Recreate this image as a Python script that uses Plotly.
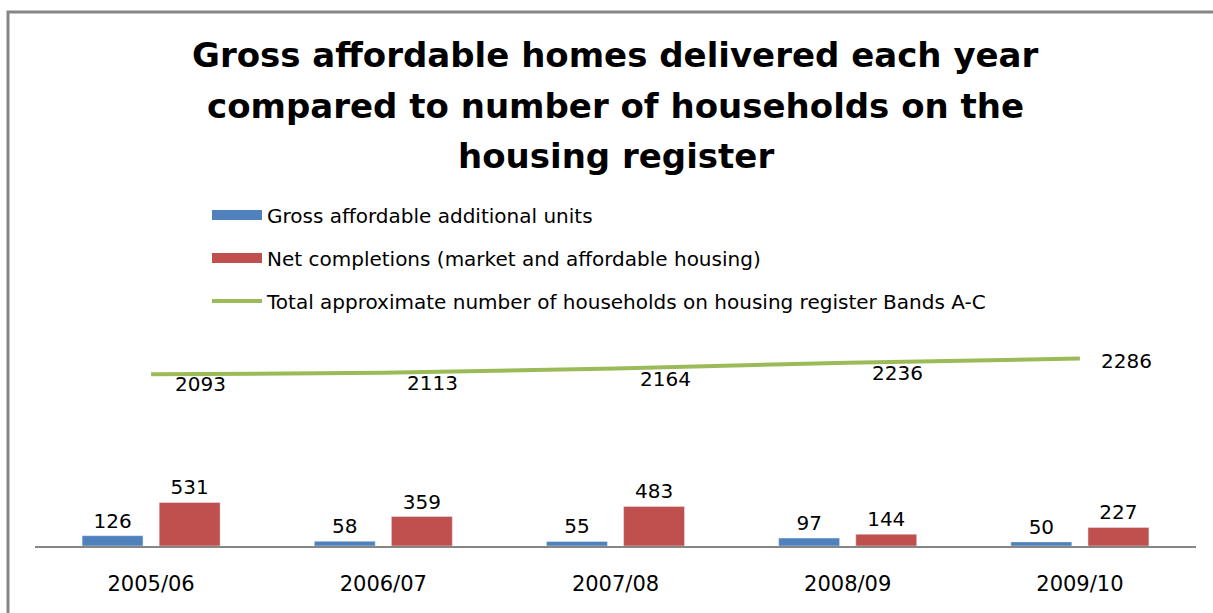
import plotly.graph_objects as go

years = ["2005/06", "2006/07", "2007/08", "2008/09", "2009/10"]
gross_affordable = [126, 58, 55, 97, 50]
net_completions = [531, 359, 483, 144, 227]
register_total = [2093, 2113, 2164, 2236, 2286]
register_label_pos = ["below", "below", "below", "below", "right"]

names = [
    "Gross affordable additional units",
    "Net completions (market and affordable housing)",
    "Total approximate number of households on housing register Bands A-C",
]
title_lines = [
    "Gross affordable homes delivered each year",
    "compared to number of households on the",
    "housing register",
]
colors = ["#4F81BD", "#C0504D", "#9BBB59"]
FONT = "DejaVu Sans"

PW, PH = 1161, 246
def px(xp):
    return (xp - 35) / PW
def py(yp):
    return (546 - yp) / PH

fig = go.Figure()
fig.add_trace(go.Bar(
    x=years, y=gross_affordable, name=names[0], marker_color=colors[0],
    text=gross_affordable, textposition="outside", cliponaxis=False,
    textfont=dict(family=FONT, size=20, color="#000000"), showlegend=False,
))
fig.add_trace(go.Bar(
    x=years, y=net_completions, name=names[1], marker_color=colors[1],
    text=net_completions, textposition="outside", cliponaxis=False,
    textfont=dict(family=FONT, size=20, color="#000000"), showlegend=False,
))
fig.add_trace(go.Scatter(
    x=years, y=register_total, name=names[2], mode="lines",
    line=dict(color=colors[2], width=4), legend="legend3",
))
# legend swatches for the bar series (wide rectangles, as in the original)
fig.add_trace(go.Scatter(x=[None], y=[None], mode="lines", name=names[0],
                         line=dict(color=colors[0], width=12), legend="legend",
                         hoverinfo="skip"))
fig.add_trace(go.Scatter(x=[None], y=[None], mode="lines", name=names[1],
                         line=dict(color=colors[1], width=12), legend="legend2",
                         hoverinfo="skip"))

for yr, v, pos in zip(years, register_total, register_label_pos):
    if pos == "right":
        fig.add_annotation(x=yr, y=v, text=str(v), showarrow=False,
                           xanchor="left", yanchor="middle", xshift=19, yshift=-2,
                           font=dict(family=FONT, size=20, color="#000000"))
    else:
        fig.add_annotation(x=yr, y=v, text=str(v), showarrow=False,
                           xanchor="left", yanchor="top", xshift=22, yshift=4,
                           font=dict(family=FONT, size=20, color="#000000"))

for line, ymid in zip(title_lines, [55, 106, 156]):
    fig.add_annotation(
        text="<b>" + line + "</b>",
        xref="paper", yref="paper", x=0.5, y=py(ymid), xanchor="center", yanchor="middle",
        showarrow=False, align="center",
        font=dict(family=FONT, size=34, color="#000000"),
    )

legend_common = dict(font=dict(family=FONT, size=20, color="#000000"),
                     bgcolor="rgba(0,0,0,0)", xanchor="left", yanchor="middle",
                     xref="paper", yref="paper", itemwidth=50, visible=True)
fig.update_layout(
    showlegend=True,
    legend=dict(x=px(207), y=py(215), **legend_common),
    legend2=dict(x=px(207), y=py(258), **legend_common),
    legend3=dict(x=px(207), y=py(301), **legend_common),
)

fig.update_layout(
    width=1213, height=613,
    margin=dict(l=35, r=17, t=300, b=67, autoexpand=False),
    paper_bgcolor="#FFFFFF", plot_bgcolor="#FFFFFF",
    barmode="group", bargap=0.336, bargroupgap=0.21,
    xaxis=dict(showline=True, linecolor="#868686", linewidth=1.5, ticks="",
               tickfont=dict(family=FONT, size=21, color="#000000"), tickangle=0,
               ticklabelstandoff=18, showgrid=False, zeroline=False),
    yaxis=dict(range=[0, 3000], visible=False, showgrid=False, zeroline=False),
    shapes=[dict(type="rect", xref="paper", yref="paper",
                 x0=px(8), x1=1.2, y0=-0.5, y1=py(12),
                 line=dict(color="#868686", width=3), fillcolor="rgba(0,0,0,0)", layer="below")],
)

fig.write_html("out.html")
